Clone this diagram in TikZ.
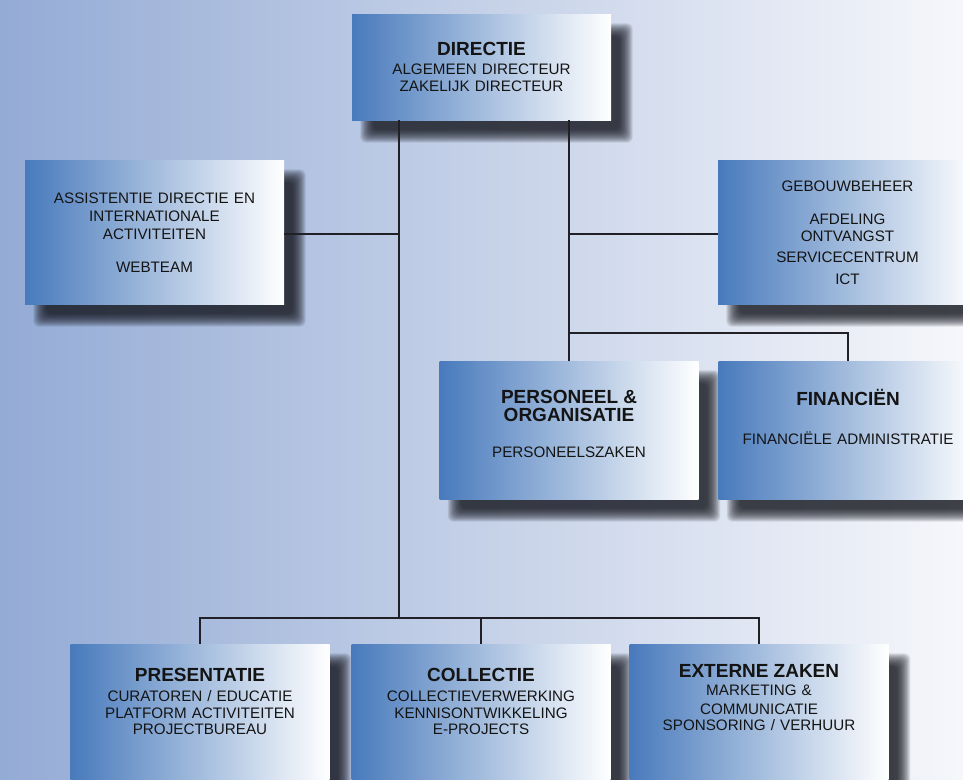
\documentclass[tikz,border=0pt]{standalone}
\usepackage{fontspec}
\setmainfont{Liberation Sans}
\usepackage{tikz}
\usetikzlibrary{positioning}
\definecolor{achterlinks}{RGB}{148,171,213}
\definecolor{achterrechts}{RGB}{246,247,251}
\definecolor{vakblauw}{RGB}{72,122,188}
\definecolor{lijnkleur}{RGB}{32,32,38}
\definecolor{schaduw}{RGB}{22,24,32}
\pgfdeclarelayer{achtergrond}
\pgfdeclarelayer{schaduwlaag}
\pgfsetlayers{achtergrond,schaduwlaag,main}
\tikzset{
    %Define style for boxes
    afdeling/.style={
           rectangle,
           draw=none,
           left color=vakblauw, right color=white,
           minimum width=259pt,
           minimum height=144pt,
           inner sep=0pt
           },
    %Define style for texts in boxes
    tekst/.style={
           inner sep=0pt,
           text width=250pt,
           align=center,
           text=black!92,
           font=\fontsize{15.2}{17}\selectfont
           },
    %Define style for one layer of a soft shadow
    waas/.style={
           fill=schaduw,
           opacity=0.11,
           rounded corners=6pt},
    % Define line style
    verbinding/.style={
           draw=lijnkleur,
           line width=1.2pt}
}
\newcommand{\kop}[1]{{\fontsize{19}{17}\selectfont\bfseries #1}}

\begin{document}
\begin{tikzpicture}[x=1pt,y=-1pt]
\useasboundingbox (0,0) rectangle (963,779);
\begin{pgfonlayer}{achtergrond}
\shade[left color=achterlinks,right color=achterrechts] (0,0) rectangle (963,779);
\end{pgfonlayer}
% boxes
\node[afdeling, minimum height=106pt](dir) at (481.5,67){};
\node[afdeling](ass) at (154.5,232){};
\node[afdeling](geb) at (847.5,232){};
\node[afdeling, minimum height=138pt](po) at (569,430){};
\node[afdeling, minimum height=138pt](fin) at (848,430){};
\node[afdeling](pres) at (200,716){};
\node[afdeling](col) at (481,716){};
\node[afdeling](ext) at (759,716){};
% shadows
\begin{pgfonlayer}{schaduwlaag}
\foreach \n in {dir,ass,geb,po,fin,pres,col,ext}
  \foreach \d in {6.5,5.5,...,-6.5}
    \fill[waas] ([xshift={15pt-(\d)*1pt}, yshift={-16pt+(\d)*1pt}]\n.north west)
      rectangle ([xshift={15pt+(\d)*1pt}, yshift={-16pt-(\d)*1pt}]\n.south east);
\end{pgfonlayer}
% texts
\node[tekst](dir-t) at (481.5,67.3){\kop{DIRECTIE}\\[2.2pt] ALGEMEEN DIRECTEUR\\ ZAKELIJK DIRECTEUR};
\node[tekst](ass-t) at (154.5,232.5){ASSISTENTIE DIRECTIE EN\\[1pt] INTERNATIONALE\\[1pt] ACTIVITEITEN\\[16pt] WEBTEAM};
\node[tekst](geb-t) at (847.5,232.7){GEBOUWBEHEER\\[16.3pt] AFDELING\\ ONTVANGST\\[4.3pt] SERVICECENTRUM\\[5pt] ICT};
\node[tekst](po-t) at (569,424){\kop{PERSONEEL \&}\\[1pt] \kop{ORGANISATIE}\\[19pt] PERSONEELSZAKEN};
\node[tekst](fin-t) at (848,417){\kop{FINANCIËN}\\[22.2pt] FINANCIËLE ADMINISTRATIE};
\node[tekst](pres-t) at (200,701.3){\kop{PRESENTATIE}\\[2.5pt] CURATOREN / EDUCATIE\\ PLATFORM ACTIVITEITEN\\[-1pt] PROJECTBUREAU};
\node[tekst](col-t) at (481,701.3){\kop{COLLECTIE}\\[2.5pt] COLLECTIEVERWERKING\\ KENNISONTWIKKELING\\[-1pt] E-PROJECTS};
\node[tekst](ext-t) at (759,697.3){\kop{EXTERNE ZAKEN}\\[0.5pt] MARKETING \&\\[2pt] COMMUNICATIE\\[-1pt] SPONSORING / VERHUUR};
% lines
\coordinate (stam) at (399,618);
\coordinate (splits) at (569,333);
\coordinate (tak) at (569,234);
\path[verbinding]
	(stam |- dir.south) edge (stam)
	(po.north |- dir.south) edge (po.north)
	(ass.east |- tak) edge (stam |- tak)
	(geb.west |- tak) edge (tak)
	(col.north) edge (col.north |- stam);
\draw[verbinding] (splits) -| (fin.north);
\draw[verbinding] (pres.north) |- (stam) -| (ext.north);
\end{tikzpicture}
\end{document}
